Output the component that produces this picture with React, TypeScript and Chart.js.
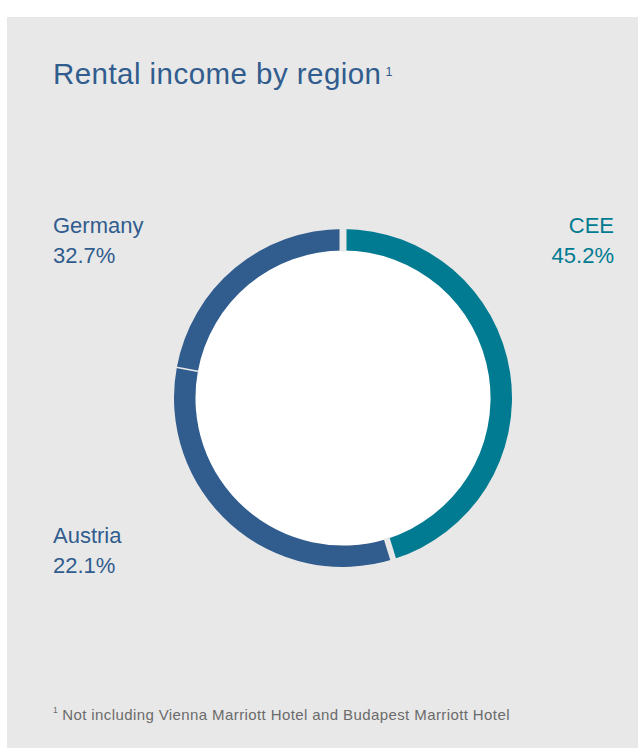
import React, { useEffect, useRef } from 'react';
import { Chart, registerables } from 'chart.js';

Chart.register(...registerables);

const categories = ['CEE', 'Germany', 'Austria'];
const shares = [45.2, 32.7, 22.1];
const shareLabels = shares.map((v) => v.toFixed(1) + '%');
const titleText = 'Rental income by region';
const footnoteText = 'Not including Vienna Marriott Hotel and Budapest Marriott Hotel';

const BLUE = '#305c8e';
const TEAL = '#007b91';
const PANEL = '#e8e8e8';
const segmentColors = [TEAL, BLUE, BLUE];
const textColors: Record<string, string> = { CEE: TEAL, Germany: BLUE, Austria: BLUE };
// gap widths at the start of each segment (style)
const gapWidths = [7, 6, 1.6];

const labelPos: Record<string, React.CSSProperties> = {
  CEE: { left: 414, width: 200, top: 211, textAlign: 'right' },
  Germany: { left: 53, top: 211 },
  Austria: { left: 53, top: 521 },
};

const ringPlugin = {
  id: 'ringDecor',
  beforeDatasetsDraw(chart: any) {
    const meta = chart.getDatasetMeta(0);
    const arc = meta.data[0];
    if (!arc) return;
    const ctx = chart.ctx;
    ctx.save();
    ctx.fillStyle = '#ffffff';
    ctx.beginPath();
    ctx.arc(arc.x, arc.y, arc.innerRadius + 0.5, 0, Math.PI * 2);
    ctx.fill();
    ctx.restore();
  },
  afterDatasetsDraw(chart: any) {
    const meta = chart.getDatasetMeta(0);
    const ctx = chart.ctx;
    ctx.save();
    ctx.strokeStyle = PANEL;
    meta.data.forEach((arc: any, i: number) => {
      const a = arc.startAngle;
      const r0 = arc.innerRadius - 1;
      const r1 = arc.outerRadius + 2;
      ctx.lineWidth = gapWidths[i];
      ctx.beginPath();
      ctx.moveTo(arc.x + Math.cos(a) * r0, arc.y + Math.sin(a) * r0);
      ctx.lineTo(arc.x + Math.cos(a) * r1, arc.y + Math.sin(a) * r1);
      ctx.stroke();
    });
    ctx.restore();
  },
};

export default function App() {
  const canvasRef = useRef<HTMLCanvasElement | null>(null);

  useEffect(() => {
    if (!canvasRef.current) return;
    const chart = new Chart(canvasRef.current, {
      type: 'doughnut',
      data: {
        labels: categories,
        datasets: [
          {
            data: shares,
            backgroundColor: segmentColors,
            borderWidth: 0,
            hoverOffset: 0,
          },
        ],
      },
      options: {
        animation: false,
        responsive: true,
        maintainAspectRatio: false,
        cutout: '87.3%',
        rotation: 0,
        layout: { padding: 0 },
        plugins: {
          legend: { display: false },
          tooltip: { enabled: false },
          title: { display: false },
        },
        events: [],
      },
      plugins: [ringPlugin],
    });
    return () => chart.destroy();
  }, []);

  const font = '"Liberation Sans", Arial, Helvetica, sans-serif';

  return (
    <div style={{ position: 'absolute', left: 0, top: 0, width: 638, height: 748, overflow: 'hidden', background: '#ffffff', fontFamily: font }}>
      <div style={{ position: 'absolute', left: 7, top: 17, width: 640, height: 740, background: PANEL }} />
      <div style={{ position: 'absolute', left: 53, top: 57, fontSize: 29.5, letterSpacing: '0.45px', lineHeight: '34px', color: BLUE, whiteSpace: 'nowrap' }}>
        {titleText}
        <span style={{ fontSize: 12.5, letterSpacing: 0, position: 'relative', top: -8.5, marginLeft: 4 }}>1</span>
      </div>
      {categories.map((c, i) => (
        <div key={c} style={{ position: 'absolute', fontSize: 22, lineHeight: '30px', color: textColors[c], whiteSpace: 'nowrap', ...labelPos[c] }}>
          <div>{c}</div>
          <div>{shareLabels[i]}</div>
        </div>
      ))}
      <div style={{ position: 'absolute', left: 174, top: 229, width: 338, height: 338 }}>
        <canvas ref={canvasRef} />
      </div>
      <div style={{ position: 'absolute', left: 53, top: 705.5, fontSize: 15, letterSpacing: '0.4px', lineHeight: '18px', color: '#6b6b6b', whiteSpace: 'nowrap' }}>
        <span style={{ fontSize: 8.5, letterSpacing: 0, position: 'relative', top: -6.5, marginRight: 4.5 }}>1</span>
        {footnoteText}
      </div>
    </div>
  );
}
